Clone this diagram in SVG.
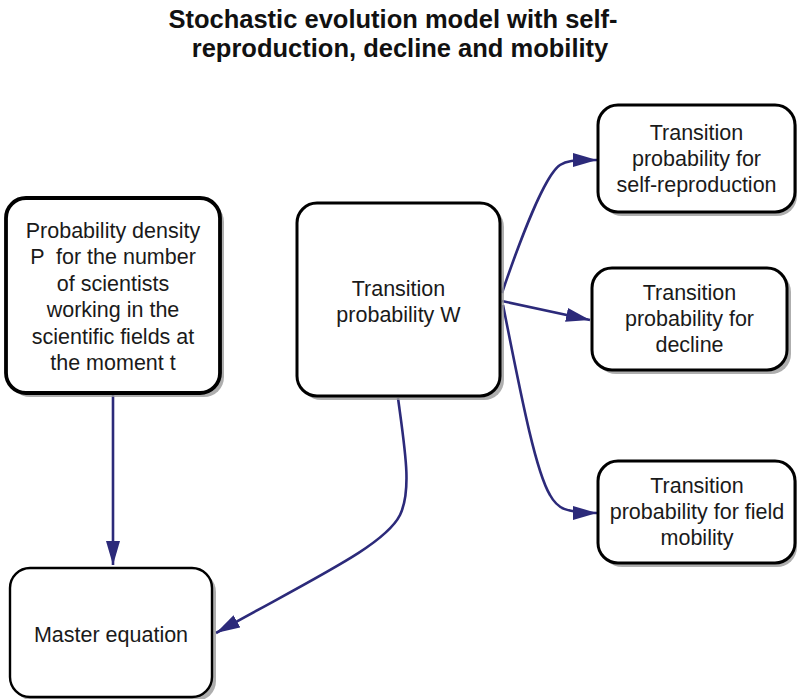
<svg xmlns="http://www.w3.org/2000/svg" width="797" height="699" viewBox="0 0 797 699">
<defs>
<style>
.box{fill:#ffffff;stroke:#000000;stroke-width:3}
.shadow{fill:#9a9a9a;stroke:none;opacity:0.8}
.lbl{font-family:"Liberation Sans",Arial,sans-serif;font-size:21.5px;fill:#1a1a1a;text-anchor:middle}
.title{font-family:"Liberation Sans",Arial,sans-serif;font-size:25.5px;font-weight:bold;fill:#111111;text-anchor:middle}
.edge{fill:none;stroke:#2c2a7a;stroke-width:2.6}
</style>
<marker id="arr" markerUnits="userSpaceOnUse" markerWidth="26" markerHeight="16" refX="24" refY="7" orient="auto">
<path d="M0,0 L24,7 L0,14 Z" fill="#2c2a7a"/>
</marker>
</defs>
<rect width="797" height="699" fill="#ffffff"/>
<g id="title">
<text class="title" x="393" y="28">Stochastic evolution model with self-</text>
<text class="title" x="400" y="57">reproduction, decline and mobility</text>
</g>
<g id="connectors">
<path class="edge" d="M113,394 L113,565" marker-end="url(#arr)"/>
<path class="edge" d="M398,398 C405,450 412,490 400,515 C385,545 320,575 216,633" marker-end="url(#arr)"/>
<path class="edge" d="M502,293 C520,240 545,175 560,165 C566,161 572,160 597,160" marker-end="url(#arr)"/>
<path class="edge" d="M502,301 L590,320" marker-end="url(#arr)"/>
<path class="edge" d="M503,305 C520,390 535,470 550,495 C557,508 565,513 597,513" marker-end="url(#arr)"/>
</g>
<g id="node-density">
<rect class="shadow" x="10" y="202" width="214" height="195" rx="20"/>
<rect class="box" x="6" y="198" width="214" height="195" rx="20" style="stroke-width:3.8"/>
<text class="lbl" x="113" y="238">Probability density</text>
<text class="lbl" x="113" y="264.4" xml:space="preserve">P  for the number</text>
<text class="lbl" x="113" y="290.8">of scientists</text>
<text class="lbl" x="113" y="317.2">working in the</text>
<text class="lbl" x="113" y="343.6">scientific fields at</text>
<text class="lbl" x="113" y="370">the moment t</text>
</g>
<g id="node-w">
<rect class="shadow" x="301" y="207" width="203" height="193" rx="20"/>
<rect class="box" x="297" y="203" width="203" height="193" rx="20"/>
<text class="lbl" x="398.5" y="296">Transition</text>
<text class="lbl" x="398.5" y="322">probability W</text>
</g>
<g id="node-self">
<rect class="shadow" x="602" y="109" width="195" height="107" rx="20"/>
<rect class="box" x="598" y="105" width="197" height="107" rx="20"/>
<text class="lbl" x="696.5" y="140">Transition</text>
<text class="lbl" x="696.5" y="166">probability for</text>
<text class="lbl" x="696.5" y="192">self-reproduction</text>
</g>
<g id="node-decline">
<rect class="shadow" x="596" y="272" width="195" height="102" rx="20"/>
<rect class="box" x="592" y="268" width="195" height="102" rx="20"/>
<text class="lbl" x="689.5" y="300">Transition</text>
<text class="lbl" x="689.5" y="326">probability for</text>
<text class="lbl" x="689.5" y="352">decline</text>
</g>
<g id="node-mobility">
<rect class="shadow" x="602" y="465" width="195" height="102" rx="20"/>
<rect class="box" x="598" y="461" width="197" height="102" rx="20"/>
<text class="lbl" x="697" y="493">Transition</text>
<text class="lbl" x="697" y="519">probability for field</text>
<text class="lbl" x="697" y="545">mobility</text>
</g>
<g id="node-master">
<rect class="shadow" x="14" y="572" width="202" height="129" rx="20"/>
<rect class="box" x="10" y="568" width="202" height="129" rx="20" style="stroke-width:2.4"/>
<text class="lbl" x="111" y="642">Master equation</text>
</g>
</svg>
